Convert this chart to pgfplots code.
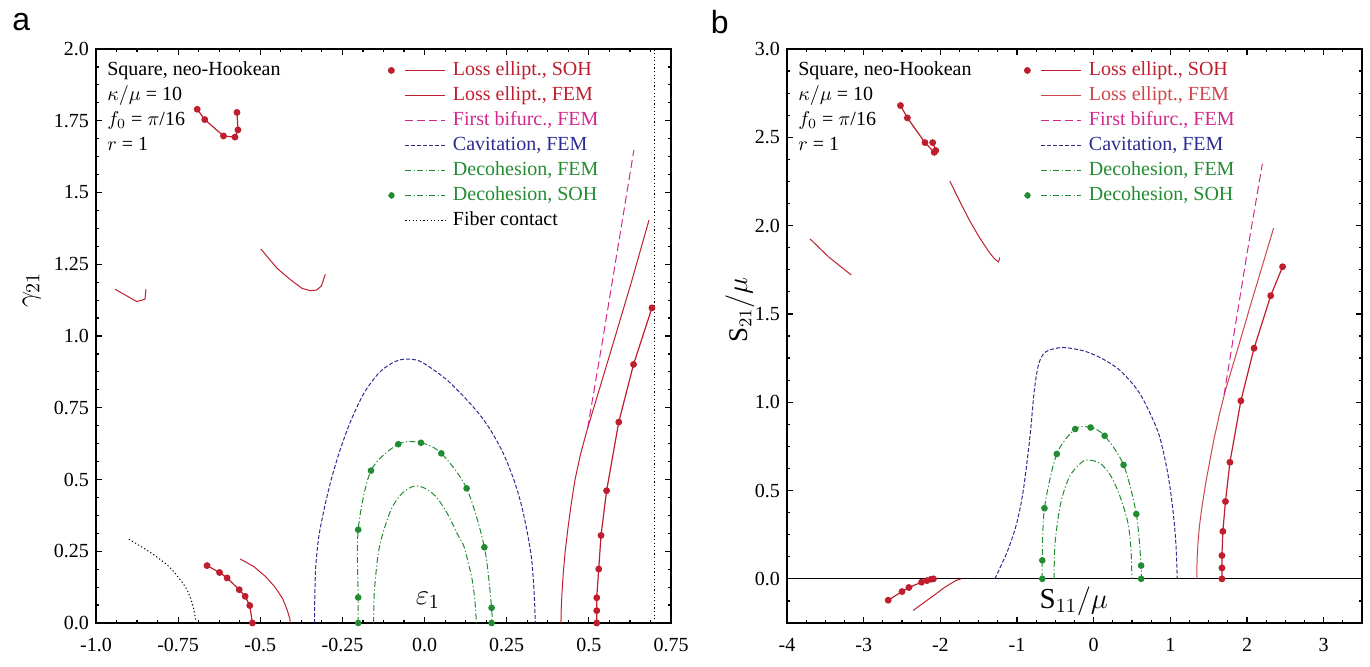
\documentclass[border=0pt]{standalone}
\usepackage{pgfplots}
\pgfplotsset{compat=1.18}
\usepackage{fontspec}
\setmainfont{Liberation Serif}
\setsansfont{Liberation Sans}
\definecolor{cred}{RGB}{190,30,45}
\definecolor{credl}{RGB}{205,70,75}
\definecolor{cmag}{RGB}{210,40,140}
\definecolor{cblue}{RGB}{45,45,145}
\definecolor{cgreen}{RGB}{35,140,50}
\pgfplotsset{
 lm/.style={legend image code/.code={\path[draw=none,fill=none] (-2pt,-3pt) rectangle (27pt,3pt); \fill (0pt,0pt) circle (1.4pt); \draw (7pt,0pt) -- (27pt,0pt);}},
 ln/.style={legend image code/.code={\path[draw=none,fill=none] (-2pt,-3pt) rectangle (27pt,3pt); \draw (7pt,0pt) -- (27pt,0pt);}},
 soh/.style={mark=*, mark size=1.4pt, mark options={solid}},
 dashb/.style={dash pattern=on 2pt off 1pt},
 dashm/.style={dash pattern=on 4pt off 2pt},
 dashdot/.style={dash pattern=on 3pt off 1.2pt on 0.6pt off 1.2pt},
 dotk/.style={dash pattern=on 0.6pt off 1.2pt},
 base/.style={scale only axis, width=287.5pt, height=287pt, clip=false, anchor=south west,
   axis line style={line width=0.8pt}, tick style={black, line width=0.6pt},
   major tick length=3pt, minor tick length=1.6pt,
   tick label style={font=\fontsize{10}{12}\selectfont},
   xticklabel style={yshift=-4pt},
   legend cell align=left,
   legend style={draw=none, fill=none, anchor=north west, inner sep=0pt, column sep=3.5pt, row sep=3.5pt,
     nodes={inner sep=0pt, text height=7pt, text depth=2pt}, font=\fontsize{10}{12}\selectfont},
   every axis plot/.append style={line width=0.5pt},
 },
}
\begin{document}
\begin{tikzpicture}
\useasboundingbox (0,0) rectangle (685pt,333pt);
% ---------------- panel a ----------------
\begin{axis}[base, at={(48pt,21.5pt)},
  xmin=-1, xmax=0.75, ymin=0, ymax=2,
  xtick={-1,-0.75,-0.5,-0.25,0,0.25,0.5,0.75},
  xticklabels={-1.0,-0.75,-0.5,-0.25,0.0,0.25,0.5,0.75},
  ytick={0,0.25,0.5,0.75,1,1.25,1.5,1.75,2},
  yticklabels={0.0,0.25,0.5,0.75,1.0,1.25,1.5,1.75,2.0},
  minor xtick={-1,-0.9375,...,0.75},
  minor ytick={0,0.0625,...,2},
  ylabel={$\gamma_{21}$},
  ylabel style={at={(axis description cs:-0.112,0.58)}, anchor=center, font=\fontsize{14.5}{16}\selectfont},
  legend style={at={(rel axis cs:0.506,0.979)}},
]
\addplot[cred, soh, lm, line width=0.6pt] coordinates {(0.524,0) (0.524,0.043) (0.524,0.088) (0.530,0.188) (0.537,0.305) (0.554,0.461) (0.591,0.700) (0.636,0.901) (0.692,1.098)};
\addlegendentry{\textcolor{cred}{Loss ellipt., SOH}}
\addplot[cred, soh, line width=0.6pt, forget plot] coordinates {(-0.692,1.790) (-0.669,1.754) (-0.612,1.697) (-0.577,1.693) (-0.568,1.718) (-0.571,1.779)};
\addplot[cred, soh, line width=0.6pt, forget plot] coordinates {(-0.662,0.200) (-0.624,0.176) (-0.601,0.157) (-0.564,0.116) (-0.546,0.093) (-0.532,0.061) (-0.524,0)};
\addplot[cred, ln] coordinates {(0.415,0) (0.416,0.05) (0.418,0.1) (0.422,0.173) (0.428,0.25) (0.437,0.336) (0.447,0.42) (0.458,0.5) (0.475,0.59) (0.496,0.678) (0.536,0.83) (0.577,0.986) (0.63,1.19) (0.683,1.404)};
\addlegendentry{\textcolor{cred}{Loss ellipt., FEM}}
\addplot[cred, forget plot] coordinates {(-0.942,1.163) (-0.876,1.120) (-0.851,1.128) (-0.848,1.163)};
\addplot[cred, forget plot] coordinates {(-0.498,1.303) (-0.449,1.236) (-0.409,1.197) (-0.373,1.166) (-0.348,1.158) (-0.329,1.160) (-0.314,1.174) (-0.302,1.215)};
\addplot[cred, forget plot] coordinates {(-0.561,0.223) (-0.52,0.197) (-0.485,0.163) (-0.455,0.125) (-0.432,0.085) (-0.418,0.045) (-0.410,0.015) (-0.409,0)};
\addplot[cmag, dashm, ln] coordinates {(0.496,0.678) (0.542,0.986) (0.590,1.32) (0.637,1.648)};
\addlegendentry{\textcolor{cmag}{First bifurc., FEM}}
\addplot[cblue, dashb, ln, smooth, tension=0.5] coordinates {(-0.335,0) (-0.334,0.1) (-0.331,0.2) (-0.322,0.3) (-0.305,0.4) (-0.284,0.5) (-0.258,0.6) (-0.226,0.7) (-0.185,0.8) (-0.14,0.87) (-0.10,0.905) (-0.065,0.919) (-0.02,0.915) (0.02,0.888) (0.07,0.845) (0.12,0.788) (0.165,0.73) (0.201,0.672) (0.24,0.59) (0.272,0.498) (0.295,0.41) (0.313,0.313) (0.325,0.23) (0.331,0.15) (0.335,0.07) (0.337,0)};
\addlegendentry{\textcolor{cblue}{Cavitation, FEM}}
\addplot[cgreen, dashdot, ln, smooth, tension=0.5] coordinates {(-0.155,0) (-0.154,0.08) (-0.150,0.15) (-0.14,0.25) (-0.125,0.32) (-0.10,0.40) (-0.07,0.45) (-0.033,0.477) (0.0,0.47) (0.035,0.44) (0.069,0.382) (0.10,0.31) (0.120,0.266) (0.135,0.2) (0.145,0.150) (0.153,0.08) (0.158,0)};
\addlegendentry{\textcolor{cgreen}{Decohesion, FEM}}
\addplot[cgreen, dashdot, soh, lm, smooth, tension=0.5] coordinates {(-0.202,0) (-0.202,0.089) (-0.202,0.325) (-0.163,0.531) (-0.080,0.623) (-0.011,0.628) (0.051,0.591) (0.128,0.469) (0.182,0.264) (0.204,0.053) (0.204,0)};
\addlegendentry{\textcolor{cgreen}{Decohesion, SOH}}
\addplot[black, dotk, ln] coordinates {(0.7,0) (0.7,2)};
\addlegendentry{Fiber contact}
\addplot[black, dotk, forget plot, smooth] coordinates {(-0.90,0.292) (-0.84,0.25) (-0.784,0.203) (-0.75,0.16) (-0.723,0.116) (-0.705,0.06) (-0.695,0)};
\node[anchor=north west, align=left, inner sep=0pt, font=\fontsize{10}{12.5}\selectfont] at (rel axis cs:0.019,0.979) {Square, neo-Hookean\\ $\kappa/\mu$ = 10\\ $f_0$ = $\pi$/16\\ $r$ = 1};
\node[font=\fontsize{14.5}{16}\selectfont] at (axis cs:0.01,0.08) {$\varepsilon_1$};
\node[font=\sffamily\fontsize{16}{18}\selectfont] at (axis description cs:-0.130,1.047) {a};
\end{axis}
% ---------------- panel b ----------------
\begin{axis}[base, at={(393.5pt,21.5pt)},
  xmin=-4, xmax=3.5, ymin=-0.25, ymax=3,
  xtick={-4,-3,-2,-1,0,1,2,3},
  xticklabels={-4,-3,-2,-1,0,1,2,3},
  ytick={0,0.5,1,1.5,2,2.5,3},
  yticklabels={0.0,0.5,1.0,1.5,2.0,2.5,3.0},
  minor xtick={-4,-3.75,...,3.5},
  minor ytick={-0.125,0,...,3},
  ylabel={$\mathrm{S}_{21}/\mu$},
  ylabel style={at={(axis description cs:-0.082,0.545)}, anchor=center, font=\fontsize{13.5}{15}\selectfont},
  legend style={at={(rel axis cs:0.4104,0.979)}},
]
\addplot[black, line width=0.6pt, forget plot] coordinates {(-4,0) (3.5,0)};
\addplot[cred, soh, lm, line width=0.6pt] coordinates {(1.673,0) (1.673,0.062) (1.673,0.132) (1.685,0.269) (1.719,0.438) (1.777,0.660) (1.920,1.008) (2.092,1.306) (2.309,1.603) (2.464,1.767)};
\addlegendentry{\textcolor{cred}{Loss ellipt., SOH}}
\addplot[cred, soh, line width=0.6pt, forget plot] coordinates {(-2.52,2.68) (-2.43,2.61) (-2.20,2.47) (-2.08,2.415) (-2.06,2.425) (-2.10,2.47)};
\addplot[cred, soh, line width=0.6pt, forget plot] coordinates {(-2.68,-0.121) (-2.50,-0.072) (-2.41,-0.049) (-2.245,-0.019) (-2.175,-0.01) (-2.12,-0.002) (-2.09,0)};
\addplot[credl, ln] coordinates {(1.345,0) (1.348,0.1) (1.36,0.2) (1.38,0.3) (1.41,0.4) (1.461,0.541) (1.52,0.68) (1.576,0.805) (1.645,0.94) (1.719,1.068) (1.891,1.32) (2.063,1.575) (2.205,1.78) (2.347,1.986)};
\addlegendentry{\textcolor{credl}{Loss ellipt., FEM}}
\addplot[cred, forget plot] coordinates {(-3.70,1.925) (-3.45,1.82) (-3.16,1.72)};
\addplot[cred, forget plot] coordinates {(-1.876,2.252) (-1.75,2.14) (-1.62,2.03) (-1.50,1.94) (-1.375,1.857) (-1.30,1.815) (-1.26,1.80) (-1.24,1.795) (-1.225,1.82)};
\addplot[cred, forget plot] coordinates {(-2.355,-0.179) (-2.2,-0.13) (-2.057,-0.085) (-1.95,-0.05) (-1.884,-0.032) (-1.80,-0.01) (-1.73,0)};
\addplot[cmag, dashm, ln] coordinates {(1.70,1.04) (1.85,1.44) (2.006,1.857) (2.2,2.35)};
\addlegendentry{\textcolor{cmag}{First bifurc., FEM}}
\addplot[cblue, dashb, ln, smooth, tension=0.5] coordinates {(-1.289,0) (-1.232,0.053) (-1.117,0.165) (-1.003,0.316) (-0.917,0.504) (-0.831,0.805) (-0.774,1.068) (-0.716,1.218) (-0.63,1.284) (-0.458,1.308) (-0.344,1.308) (-0.115,1.289) (0.115,1.246) (0.344,1.180) (0.573,1.068) (0.716,0.955) (0.860,0.805) (0.974,0.579) (1.043,0.353) (1.077,0.165) (1.089,0)};
\addlegendentry{\textcolor{cblue}{Cavitation, FEM}}
\addplot[cgreen, dashdot, ln, smooth, tension=0.5] coordinates {(-0.516,0) (-0.504,0.203) (-0.430,0.429) (-0.315,0.579) (-0.172,0.654) (-0.086,0.673) (0.086,0.654) (0.229,0.579) (0.344,0.466) (0.447,0.316) (0.487,0.165) (0.499,0)};
\addlegendentry{\textcolor{cgreen}{Decohesion, FEM}}
\addplot[cgreen, dashdot, soh, lm, smooth, tension=0.5] coordinates {(-0.670,0) (-0.670,0.105) (-0.642,0.400) (-0.481,0.707) (-0.241,0.848) (-0.040,0.857) (0.143,0.810) (0.390,0.645) (0.556,0.367) (0.619,0.075) (0.619,0)};
\addlegendentry{\textcolor{cgreen}{Decohesion, SOH}}
\node[anchor=north west, align=left, inner sep=0pt, font=\fontsize{10}{12.5}\selectfont] at (rel axis cs:0.019,0.979) {Square, neo-Hookean\\ $\kappa/\mu$ = 10\\ $f_0$ = $\pi$/16\\ $r$ = 1};
\node[font=\fontsize{14.5}{16}\selectfont] at (axis cs:-0.26,-0.125) {$\mathrm{S}_{11}/\mu$};
\node[font=\sffamily\fontsize{16}{18}\selectfont] at (axis description cs:-0.117,1.047) {b};
\end{axis}
\end{tikzpicture}
\end{document}
